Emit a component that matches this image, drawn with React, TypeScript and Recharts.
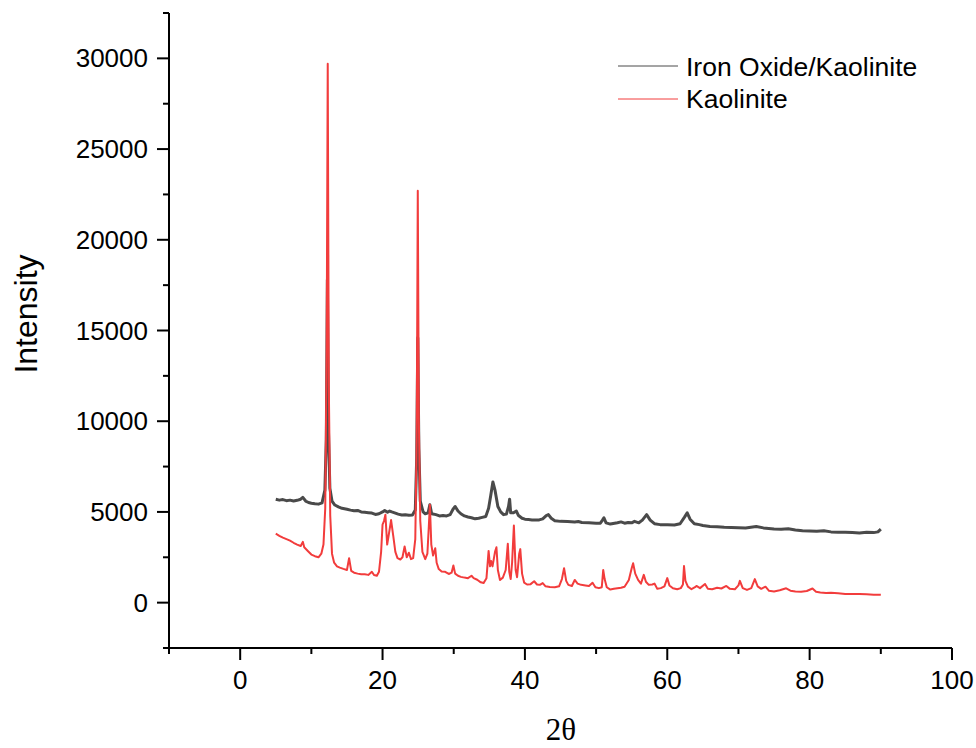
import React from 'react';
import { LineChart, Line, XAxis, YAxis } from 'recharts';

// 2-theta / intensity pairs
const ironOxideKaolinite: [number, number][] = [
  [5.0, 5700], [5.5, 5650], [6.0, 5680], [6.5, 5620], [7.0, 5650], [7.5, 5600], [8.0, 5640],
  [8.5, 5700], [8.8, 5800], [9.2, 5600], [9.6, 5520], [10.0, 5480], [10.5, 5450], [11.0, 5430],
  [11.5, 5500], [11.9, 6200], [12.1, 9000], [12.25, 17800], [12.4, 9500], [12.6, 6300],
  [12.9, 5600], [13.3, 5380], [13.8, 5280], [14.3, 5200], [15.0, 5150], [15.5, 5100],
  [16.0, 5060], [16.5, 5080], [17.0, 5000], [17.5, 4980], [18.0, 4960], [18.5, 4940],
  [19.0, 4860], [19.5, 4900], [20.0, 5000], [20.3, 5080], [20.7, 4980], [21.0, 5050],
  [21.3, 5000], [21.7, 4950], [22.2, 4880], [22.7, 4830], [23.2, 4850], [23.7, 4820],
  [24.2, 4830], [24.6, 5100], [24.8, 8000], [24.95, 14600], [25.1, 8500], [25.3, 5600],
  [25.7, 5000], [26.0, 4900], [26.4, 4950], [26.65, 5400], [26.9, 4900], [27.5, 4850],
  [28.0, 4780], [28.5, 4800], [29.0, 4780], [29.5, 4850], [29.9, 5150], [30.2, 5300],
  [30.6, 5050], [31.0, 4900], [31.5, 4780], [32.0, 4720], [32.5, 4680], [33.0, 4620],
  [33.5, 4650], [34.0, 4700], [34.5, 4750], [34.9, 5200], [35.2, 5900], [35.5, 6650],
  [35.8, 6200], [36.2, 5300], [36.6, 5000], [37.0, 4850], [37.4, 4880], [37.7, 5300],
  [37.85, 5700], [38.0, 4950], [38.4, 4950], [38.8, 5050], [39.1, 4800], [39.6, 4650],
  [40.0, 4600], [40.5, 4580], [41.0, 4560], [41.5, 4550], [42.0, 4560], [42.5, 4620],
  [43.0, 4800], [43.3, 4850], [43.7, 4650], [44.2, 4520], [45.0, 4480], [46.0, 4470],
  [47.0, 4450], [47.5, 4470], [48.0, 4420], [49.0, 4400], [50.0, 4380], [50.6, 4380],
  [50.9, 4550], [51.1, 4680], [51.4, 4400], [52.0, 4330], [53.0, 4400], [53.5, 4450],
  [54.0, 4380], [54.5, 4420], [55.0, 4400], [55.4, 4480], [56.0, 4400], [56.5, 4550],
  [57.1, 4850], [57.6, 4550], [58.2, 4350], [59.0, 4300], [60.0, 4300], [61.0, 4280],
  [61.8, 4350], [62.4, 4700], [62.8, 4950], [63.2, 4600], [63.8, 4350], [64.5, 4300],
  [65.0, 4250], [66.0, 4200], [67.0, 4180], [68.0, 4150], [69.0, 4140], [70.0, 4130],
  [71.0, 4120], [72.5, 4200], [73.5, 4120], [75.0, 4060], [76.0, 4050], [77.0, 4070],
  [78.0, 4000], [79.0, 3960], [80.0, 3950], [81.0, 3930], [82.0, 3960], [83.0, 3900],
  [84.0, 3880], [85.0, 3880], [86.0, 3860], [87.0, 3840], [88.0, 3880], [89.0, 3860],
  [89.6, 3900], [90.0, 4050],
];

const kaolinite: [number, number][] = [
  [5.0, 3800], [5.5, 3680], [6.0, 3580], [6.5, 3500], [7.0, 3420], [7.5, 3300], [8.0, 3200],
  [8.5, 3120], [8.8, 3350], [9.0, 3050], [9.5, 2850], [10.0, 2650], [10.5, 2560], [11.0, 2500],
  [11.4, 2700], [11.7, 3200], [11.95, 5200], [12.15, 14000], [12.3, 29700], [12.45, 12000],
  [12.65, 4800], [12.9, 2700], [13.2, 2200], [13.6, 2000], [14.0, 1930], [14.5, 1860],
  [15.0, 1800], [15.3, 2450], [15.6, 1750], [16.0, 1650], [16.5, 1600], [17.0, 1570],
  [17.5, 1560], [18.0, 1530], [18.5, 1700], [18.8, 1520], [19.2, 1480], [19.5, 1700],
  [19.8, 2800], [20.0, 4300], [20.2, 4500], [20.4, 4850], [20.65, 3200], [20.9, 3800],
  [21.2, 4550], [21.5, 3700], [21.8, 2800], [22.1, 2450], [22.5, 2380], [22.8, 2500],
  [23.1, 3100], [23.4, 2500], [23.7, 2750], [24.0, 2400], [24.3, 2450], [24.6, 3500],
  [24.8, 9000], [24.95, 22700], [25.1, 10000], [25.3, 4500], [25.6, 2800], [26.0, 2400],
  [26.3, 2700], [26.5, 4200], [26.65, 5400], [26.85, 3200], [27.1, 2600], [27.4, 3000],
  [27.6, 2200], [27.9, 1850], [28.3, 1720], [28.8, 1700], [29.3, 1580], [29.7, 1650],
  [29.95, 2050], [30.2, 1600], [30.6, 1480], [31.0, 1420], [31.5, 1380], [32.0, 1350],
  [32.5, 1480], [32.8, 1350], [33.3, 1260], [33.8, 1120], [34.2, 1080], [34.6, 1350],
  [34.9, 2850], [35.1, 2000], [35.25, 2300], [35.45, 2000], [35.8, 2800], [36.0, 3050],
  [36.2, 1800], [36.5, 1250], [36.9, 1380], [37.3, 1800], [37.6, 3250], [37.8, 1700],
  [38.0, 1300], [38.2, 2200], [38.45, 4250], [38.7, 1800], [38.9, 1400], [39.2, 2700],
  [39.35, 2950], [39.6, 1600], [39.9, 1100], [40.3, 1000], [40.8, 1020], [41.3, 1180],
  [41.7, 1000], [42.1, 980], [42.5, 1080], [42.9, 900], [43.5, 860], [44.2, 850],
  [44.8, 900], [45.2, 1300], [45.5, 1900], [45.8, 1200], [46.1, 980], [46.6, 920],
  [47.0, 1250], [47.4, 1050], [47.9, 980], [48.5, 950], [49.0, 920], [49.5, 1100],
  [49.9, 850], [50.4, 800], [50.8, 850], [51.0, 1800], [51.2, 1300], [51.5, 850],
  [52.0, 720], [52.5, 760], [53.0, 790], [53.5, 820], [54.0, 880], [54.6, 1250],
  [55.0, 1900], [55.2, 2170], [55.5, 1600], [55.9, 1250], [56.3, 1050], [56.7, 1530],
  [57.0, 1150], [57.4, 980], [57.9, 1000], [58.2, 1050], [58.6, 760], [59.1, 800],
  [59.6, 900], [60.0, 1350], [60.3, 950], [60.8, 790], [61.4, 740], [61.9, 800],
  [62.2, 1000], [62.35, 2020], [62.55, 1200], [62.9, 880], [63.4, 740], [63.9, 850],
  [64.1, 920], [64.6, 800], [65.3, 1030], [65.7, 760], [66.3, 740], [67.0, 820],
  [67.6, 780], [68.3, 920], [68.8, 760], [69.5, 740], [70.0, 950], [70.2, 1200],
  [70.6, 800], [71.2, 700], [71.8, 800], [72.3, 1300], [72.7, 900], [73.2, 760],
  [73.8, 880], [74.3, 650], [75.0, 620], [75.8, 680], [76.7, 790], [77.3, 660],
  [78.0, 620], [78.8, 600], [79.6, 640], [80.4, 780], [80.9, 600], [81.5, 560],
  [82.3, 530], [83.0, 540], [84.0, 520], [85.0, 480], [86.0, 470], [87.0, 480],
  [88.0, 460], [89.0, 440], [90.0, 430],
];

const xTicks = [-10, 0, 10, 20, 30, 40, 50, 60, 70, 80, 90, 100];
const yTicks = [
  -2500, 0, 2500, 5000, 7500, 10000, 12500, 15000, 17500, 20000, 22500, 25000, 27500, 30000, 32500,
];

const GRAY = '#4a4a4a';
const RED = '#f23c3c';
const FONT = 'Arial, "Liberation Sans", sans-serif';

const toRows = (pts: [number, number][]) => pts.map(([theta, intensity]) => ({ theta, intensity }));

const XTick = ({ x, y, payload }: any) => {
  const major = payload.value % 20 === 0;
  return (
    <g>
      <line x1={x} x2={x} y1={y} y2={y + (major ? 12 : 6)} stroke="#000" strokeWidth={2} />
      {major && (
        <text x={x} y={y + 41} textAnchor="middle" fontFamily={FONT} fontSize={26} fill="#000">
          {payload.value}
        </text>
      )}
    </g>
  );
};

const YTick = ({ x, y, payload }: any) => {
  const major = payload.value % 5000 === 0;
  return (
    <g>
      <line x1={x} x2={x - (major ? 12 : 6)} y1={y} y2={y} stroke="#000" strokeWidth={2} />
      {major && (
        <text x={x - 21} y={y + 9} textAnchor="end" fontFamily={FONT} fontSize={26} fill="#000">
          {payload.value}
        </text>
      )}
    </g>
  );
};

export default function App() {
  return (
    <div style={{ position: 'absolute', left: 0, top: 0, width: 976, height: 748, background: '#fff' }}>
      <LineChart width={976} height={748} margin={{ top: 13, right: 24, bottom: 40, left: 69 }}>
        <XAxis
          dataKey="theta"
          type="number"
          domain={[-10, 100]}
          ticks={xTicks}
          interval={0}
          tickSize={0}
          tickMargin={0}
          tick={<XTick />}
          tickLine={false}
          height={60}
          axisLine={{ stroke: '#000', strokeWidth: 2 }}
          allowDataOverflow
        />
        <XAxis
          xAxisId="top"
          orientation="top"
          type="number"
          domain={[-10, 100]}
          tick={false}
          tickLine={false}
          height={0}
          axisLine={{ stroke: '#000', strokeWidth: 2 }}
        />
        <YAxis
          type="number"
          domain={[-2500, 32500]}
          ticks={yTicks}
          interval={0}
          tickSize={0}
          tickMargin={0}
          tick={<YTick />}
          tickLine={false}
          width={100}
          axisLine={{ stroke: '#000', strokeWidth: 2 }}
          allowDataOverflow
        />
        <YAxis
          yAxisId="right"
          orientation="right"
          type="number"
          domain={[-2500, 32500]}
          tick={false}
          tickLine={false}
          width={0}
          axisLine={{ stroke: '#000', strokeWidth: 2 }}
        />
        <Line
          data={toRows(ironOxideKaolinite)}
          dataKey="intensity"
          name="Iron Oxide/Kaolinite"
          type="linear"
          stroke={GRAY}
          strokeWidth={3}
          strokeLinejoin="round"
          dot={false}
          isAnimationActive={false}
        />
        <Line
          data={toRows(kaolinite)}
          dataKey="intensity"
          name="Kaolinite"
          type="linear"
          stroke={RED}
          strokeWidth={2}
          strokeLinejoin="round"
          dot={false}
          isAnimationActive={false}
        />
      </LineChart>
      <svg
        width={976}
        height={748}
        style={{ position: 'absolute', left: 0, top: 0, pointerEvents: 'none' }}
      >
        <line x1={618} x2={678} y1={66} y2={66} stroke={GRAY} strokeWidth={1} />
        <text x={686} y={76} fontFamily={FONT} fontSize={26.5} fill="#000">
          Iron Oxide/Kaolinite
        </text>
        <line x1={618} x2={678} y1={99} y2={99} stroke={RED} strokeWidth={1} />
        <text x={686} y={108} fontFamily={FONT} fontSize={26.5} fill="#000">
          Kaolinite
        </text>
        <text
          x={37}
          y={314}
          transform="rotate(-90 37 314)"
          textAnchor="middle"
          fontFamily={FONT}
          fontSize={32}
          fill="#000"
        >
          Intensity
        </text>
        <text
          x={561}
          y={740}
          textAnchor="middle"
          fontFamily='"Times New Roman", "Liberation Serif", serif'
          fontSize={31}
          fill="#000"
        >
          2θ
        </text>
      </svg>
    </div>
  );
}
